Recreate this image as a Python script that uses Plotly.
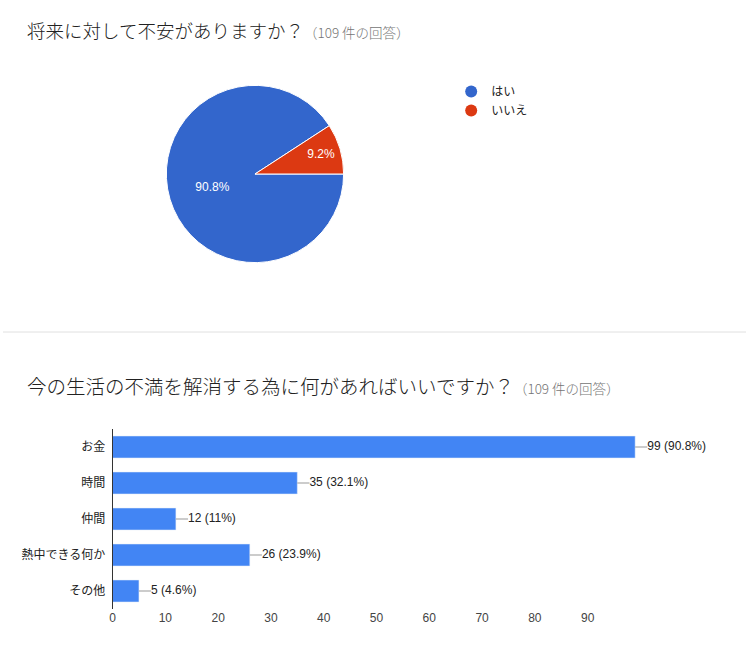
import plotly.graph_objects as go

# 設問1: 将来に対して不安がありますか？
pie_labels = ["はい", "いいえ"]
pie_values = [99, 10]
pie_colors = ["#3366CC", "#DC3912"]

# 設問2: 今の生活の不満を解消する為に何があればいいですか？
bar_labels = ["お金", "時間", "仲間", "熱中できる何か", "その他"]
bar_counts = [99, 35, 12, 26, 5]
bar_pcts = ["90.8%", "32.1%", "11%", "23.9%", "4.6%"]
x_ticks = [0, 10, 20, 30, 40, 50, 60, 70, 80, 90]

W, H = 746, 655
JP = "Noto Sans CJK JP"
NUM = "Liberation Sans, Noto Sans CJK JP"
LEAD = 2.3  # leader line length in data units
DX = -2     # small horizontal nudge
XMAX = 118  # room on the right for the value labels


def px_x(p):
    return (p + DX) / W


def px_y(p):
    return 1 - p / H


fig = go.Figure()

fig.add_trace(go.Pie(
    labels=pie_labels, values=pie_values,
    marker=dict(colors=pie_colors, line=dict(color="white", width=1)),
    sort=False, direction="clockwise", rotation=90,
    texttemplate="%{percent:.1%}", textposition="inside",
    insidetextorientation="horizontal",
    textfont=dict(family=NUM, size=12, color="white"),
    domain=dict(x=[px_x(166), px_x(344)], y=[px_y(263), px_y(85)]),
    showlegend=False, hoverinfo="label+percent",
))

# legend entries with round markers like the original
for name, col in zip(pie_labels, pie_colors):
    fig.add_trace(go.Scatter(
        x=[None], y=[None], mode="markers", name=name,
        marker=dict(symbol="circle", size=12, color=col),
    ))

fig.add_trace(go.Bar(
    x=bar_counts, y=bar_labels, orientation="h",
    marker=dict(color="#4285F4"),
    error_x=dict(type="data", symmetric=False,
                 array=[LEAD] * len(bar_counts), arrayminus=[0] * len(bar_counts),
                 color="#999999", thickness=1, width=0),
    cliponaxis=False, showlegend=False,
))

fig.add_trace(go.Scatter(
    x=[c + LEAD for c in bar_counts], y=bar_labels, mode="text",
    text=[f"{c} ({p})" for c, p in zip(bar_counts, bar_pcts)],
    textposition="middle right",
    textfont=dict(family=NUM, size=12, color="#222222"),
    cliponaxis=False, showlegend=False, hoverinfo="skip",
))

fig.update_layout(
    width=W, height=H,
    margin=dict(l=0, r=0, t=0, b=0),
    paper_bgcolor="white", plot_bgcolor="white",
    font=dict(family=NUM, size=12, color="#222222"),
    bargap=0.39,
    legend=dict(x=px_x(452), y=px_y(77), xanchor="left", yanchor="top",
                font=dict(family=JP, size=12, color="#222222"),
                tracegroupgap=0, itemsizing="constant"),
    xaxis=dict(domain=[px_x(112), px_x(112 + 5.3 * XMAX)], range=[0, XMAX],
               tickvals=x_ticks, showgrid=False, zeroline=False,
               showline=False, ticks="", anchor="y",
               tickfont=dict(family=NUM, size=12, color="#444444")),
    yaxis=dict(domain=[px_y(609), px_y(429)], type="category",
               categoryorder="array", categoryarray=bar_labels,
               autorange="reversed",
               showgrid=False, zeroline=False, showline=True,
               linecolor="#333333", linewidth=1, ticks="", ticklabelstandoff=4,
               tickfont=dict(family=JP, size=12, color="#222222")),
    showlegend=True,
)

sub = "<span style='font-size:13.5px;color:#757575'>（109 件の回答）</span>"
fig.add_annotation(
    text="将来に対して不安がありますか？" + sub,
    xref="paper", yref="paper", x=px_x(24), y=px_y(30),
    xanchor="left", yanchor="middle", showarrow=False,
    font=dict(family=JP, size=18.5, color="#212121", weight=300),
)
fig.add_annotation(
    text="今の生活の不満を解消する為に何があればいいですか？" + sub,
    xref="paper", yref="paper", x=px_x(24), y=px_y(385),
    xanchor="left", yanchor="middle", showarrow=False,
    font=dict(family=JP, size=19.5, color="#212121", weight=300),
)

fig.add_shape(type="line", xref="paper", yref="paper",
              x0=0, x1=1, y0=px_y(332), y1=px_y(332),
              line=dict(color="#e0e0e0", width=1))

fig.write_html("out.html", config={"displayModeBar": False},
               post_script="document.body.style.margin='0';document.body.style.padding='0';")
